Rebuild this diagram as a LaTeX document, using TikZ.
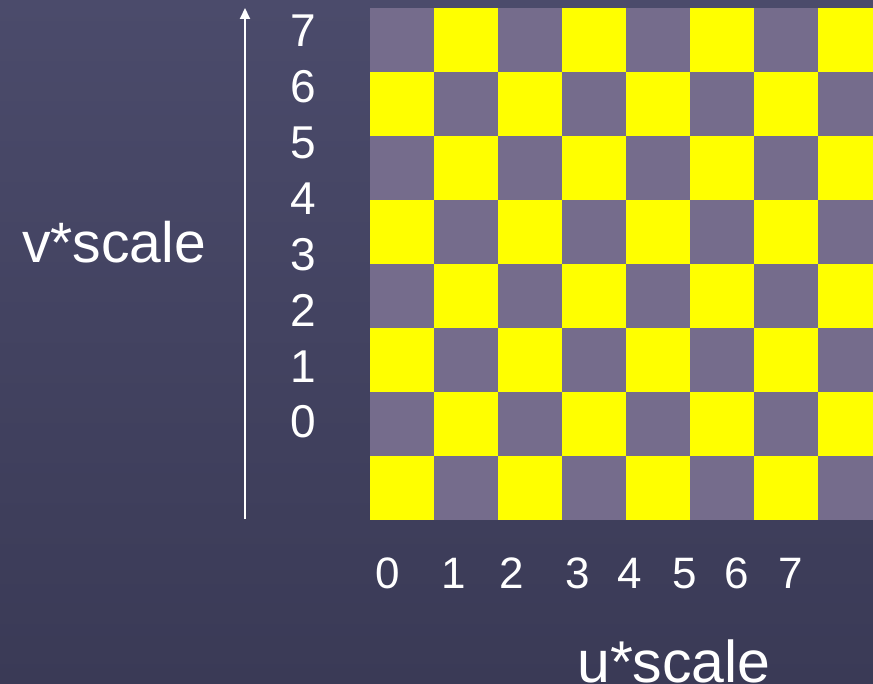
\documentclass[tikz,border=0pt]{standalone}
\usepackage{fontspec}
\setmainfont{Liberation Sans}
\usetikzlibrary{arrows.meta}
\definecolor{bgtop}{RGB}{75,75,107}
\definecolor{bgbot}{RGB}{58,58,86}
\definecolor{cellgray}{RGB}{117,108,140}
\definecolor{cellyellow}{RGB}{255,255,0}
\begin{document}
\begin{tikzpicture}[x=1pt,y=-1pt,
  lab/.style={text=white,inner sep=0pt},
  vdigit/.style={lab,anchor=base,font=\fontsize{46}{46}\selectfont},
  udigit/.style={lab,anchor=base,font=\fontsize{44}{44}\selectfont},
  axislabel/.style={lab,anchor=base west}]
\useasboundingbox (0,0) rectangle (873,684);
\shade[top color=bgtop,bottom color=bgbot] (0,0) rectangle (873,684);
\begin{scope}
\clip (0,0) rectangle (873,684);
\foreach \r in {0,...,7}{
  \foreach \c in {0,...,7}{
    \pgfmathtruncatemacro\p{mod(\r+\c,2)}
    \ifnum\p=0 \def\cc{cellgray}\else\def\cc{cellyellow}\fi
    \fill[\cc] (370+64*\c,8+64*\r) rectangle ++(64,64);
  }
}
\coordinate (vbot) at (245,519);
\coordinate (vtop) at (245,8);
\draw[white,line width=2pt,-{Triangle[width=10pt,length=11pt]}] (vbot) -- (vtop);
\foreach \d [count=\i from 0] in {7,6,...,0}
  \node[vdigit] (vl\d) at (303,47+55.85*\i) {\d};
\foreach \d/\x in {0/388,1/454,2/512,3/578,4/630,5/685,6/737,7/791}
  \node[udigit] (ul\d) at (\x,588) {\d};
\node[axislabel,font=\fontsize{57}{57}\selectfont] (vlabel) at (22,263) {v*scale};
\node[axislabel,font=\fontsize{59}{59}\selectfont] (ulabel) at (577,682) {u*scale};
\end{scope}
\end{tikzpicture}
\end{document}
